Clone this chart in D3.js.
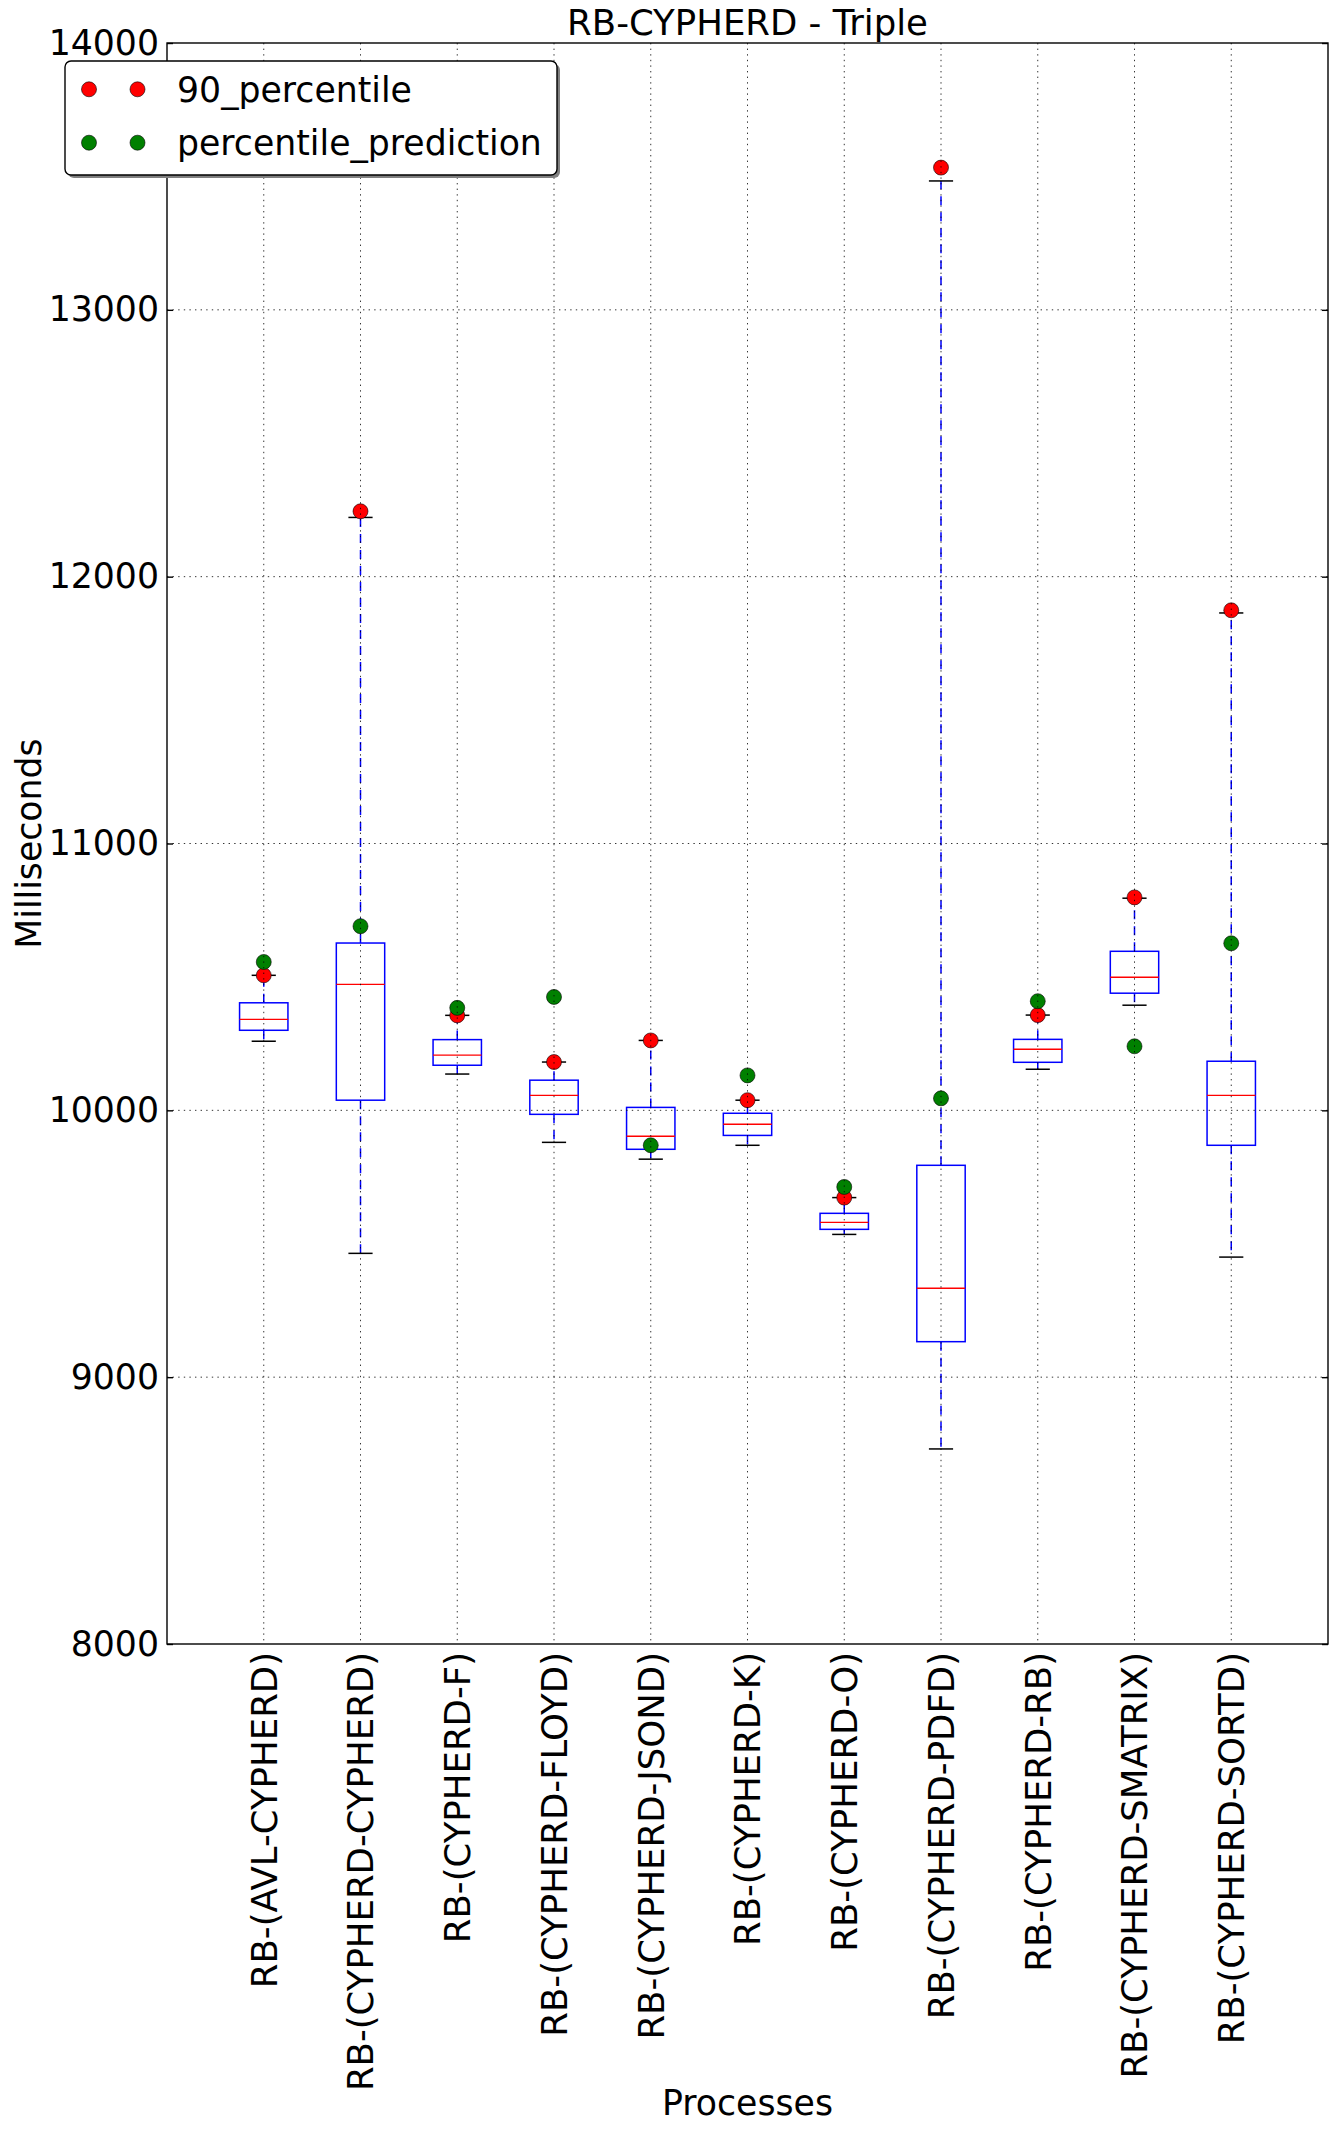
<!DOCTYPE html>
<html>
<head>
<meta charset="utf-8">
<script src="https://cdn.jsdelivr.net/npm/d3@7"></script>
<style>
  html, body { margin: 0; padding: 0; background: #fff; }
  svg { display: block; }
  text { font-family: "DejaVu Sans", sans-serif; fill: #000; }
</style>
</head>
<body>
<svg id="chart" width="1339" height="2131"></svg>
<script>
const categories = [
  "RB-(AVL-CYPHERD)", "RB-(CYPHERD-CYPHERD)", "RB-(CYPHERD-F)", "RB-(CYPHERD-FLOYD)",
  "RB-(CYPHERD-JSOND)", "RB-(CYPHERD-K)", "RB-(CYPHERD-O)", "RB-(CYPHERD-PDFD)",
  "RB-(CYPHERD-RB)", "RB-(CYPHERD-SMATRIX)", "RB-(CYPHERD-SORTD)"
];
const whiskerLow  = [10259, 9464, 10136, 9880, 9817, 9869, 9535, 8731, 10154, 10394, 9450];
const q1          = [10300, 10038, 10169, 9985, 9854, 9906, 9554, 9133, 10180, 10439, 9869];
const median      = [10341, 10472, 10207, 10056, 9903, 9948, 9580, 9333, 10229, 10499, 10056];
const q3          = [10403, 10627, 10265, 10113, 10011, 9989, 9614, 9794, 10266, 10596, 10184];
const whiskerHigh = [10506, 12222, 10356, 10181, 10262, 10038, 9673, 13483, 10357, 10795, 11864];
const p90         = [10506, 12245, 10356, 10181, 10262, 10038, 9673, 13533, 10357, 10798, 11874];
const prediction  = [10556, 10690, 10384, 10425, 9869, 10131, 9713, 10045, 10409, 10240, 10626];
const yTicks = [8000, 9000, 10000, 11000, 12000, 13000, 14000];
const legendLabels = ["90_percentile", "percentile_prediction"];
const legendColors = ["#ff0000", "#008000"];

const svg = d3.select("#chart");
const L = 167, R = 1328, T = 43, B = 1644;
const x = d3.scaleLinear().domain([0, categories.length + 1]).range([L, R]);
const y = d3.scaleLinear().domain([8000, 14000]).range([B, T]);
const unit = x(1) - x(0);
const boxW = unit * 0.5, capW = unit * 0.25;
const FS = 34.7;
const MR = 7.5;

svg.append("rect").attr("width", 1339).attr("height", 2131).attr("fill", "#fff");

const data = categories.map((c, i) => ({
  c, pos: i + 1, lo: whiskerLow[i], q1: q1[i], med: median[i], q3: q3[i], hi: whiskerHigh[i],
  p90: p90[i], pred: prediction[i]
}));

const g = svg.append("g");
// whiskers
g.selectAll(".wlo").data(data).join("line")
  .attr("x1", d => x(d.pos)).attr("x2", d => x(d.pos))
  .attr("y1", d => y(d.q1)).attr("y2", d => y(d.lo))
  .attr("stroke", "#0000ff").attr("stroke-width", 1.5).attr("stroke-dasharray", "9,7");
g.selectAll(".whi").data(data).join("line")
  .attr("x1", d => x(d.pos)).attr("x2", d => x(d.pos))
  .attr("y1", d => y(d.q3)).attr("y2", d => y(d.hi))
  .attr("stroke", "#0000ff").attr("stroke-width", 1.5).attr("stroke-dasharray", "9,7");
// caps
["lo", "hi"].forEach(k => {
  g.selectAll(".cap" + k).data(data).join("line")
    .attr("x1", d => x(d.pos) - capW / 2).attr("x2", d => x(d.pos) + capW / 2)
    .attr("y1", d => y(d[k])).attr("y2", d => y(d[k]))
    .attr("stroke", "#000").attr("stroke-width", 1.5);
});
// boxes
g.selectAll(".box").data(data).join("rect")
  .attr("x", d => x(d.pos) - boxW / 2).attr("width", boxW)
  .attr("y", d => y(d.q3)).attr("height", d => y(d.q1) - y(d.q3))
  .attr("fill", "none").attr("stroke", "#0000ff").attr("stroke-width", 1.5);
// medians
g.selectAll(".med").data(data).join("line")
  .attr("x1", d => x(d.pos) - boxW / 2).attr("x2", d => x(d.pos) + boxW / 2)
  .attr("y1", d => y(d.med)).attr("y2", d => y(d.med))
  .attr("stroke", "#ff0000").attr("stroke-width", 1.4);
// points
g.selectAll(".p90").data(data).join("circle")
  .attr("cx", d => x(d.pos)).attr("cy", d => y(d.p90)).attr("r", MR)
  .attr("fill", "#ff0000").attr("stroke", "#000").attr("stroke-width", 0.6);
g.selectAll(".pred").data(data).join("circle")
  .attr("cx", d => x(d.pos)).attr("cy", d => y(d.pred)).attr("r", MR)
  .attr("fill", "#008000").attr("stroke", "#000").attr("stroke-width", 0.6);

// grid on top
const grid = svg.append("g").attr("stroke", "#000").attr("stroke-width", 0.8).attr("stroke-dasharray", "1.4,4.2");
grid.selectAll(".gx").data(data).join("line")
  .attr("x1", d => x(d.pos)).attr("x2", d => x(d.pos)).attr("y1", T).attr("y2", B);
grid.selectAll(".gy").data(yTicks.slice(1, -1)).join("line")
  .attr("x1", L).attr("x2", R).attr("y1", d => y(d)).attr("y2", d => y(d));

// frame
svg.append("rect").attr("x", L).attr("y", T).attr("width", R - L).attr("height", B - T)
  .attr("fill", "none").attr("stroke", "#000").attr("stroke-width", 1.4);

// y ticks (inward, both sides)
const yAxisL = d3.axisLeft(y).tickValues(yTicks).tickSizeInner(-6).tickSizeOuter(0).tickPadding(8).tickFormat(d3.format("d"));
const ya = svg.append("g").attr("transform", `translate(${L},0)`).call(yAxisL);
ya.select(".domain").remove();
ya.selectAll("line").attr("stroke", "#000").attr("stroke-width", 1.4);
ya.selectAll("text").attr("font-size", FS).attr("font-family", "DejaVu Sans");
const yAxisR = d3.axisRight(y).tickValues(yTicks).tickSizeInner(-6).tickSizeOuter(0).tickFormat("");
const yr = svg.append("g").attr("transform", `translate(${R},0)`).call(yAxisR);
yr.select(".domain").remove();
yr.selectAll("line").attr("stroke", "#000").attr("stroke-width", 1.4);

// x labels
svg.append("g").selectAll("text").data(data).join("text")
  .attr("transform", d => `translate(${x(d.pos)},${B + 8}) rotate(-90)`)
  .attr("text-anchor", "end").attr("dy", "0.36em").attr("font-size", 35.5)
  .text(d => d.c);

// title and axis labels
svg.append("text").attr("x", (L + R) / 2).attr("y", 35).attr("text-anchor", "middle")
  .attr("font-size", 35.5).text("RB-CYPHERD - Triple");
svg.append("text").attr("x", (L + R) / 2).attr("y", 2115).attr("text-anchor", "middle")
  .attr("font-size", FS).text("Processes");
svg.append("text").attr("transform", `translate(41,${(T + B) / 2}) rotate(-90)`)
  .attr("text-anchor", "middle").attr("font-size", FS).text("Milliseconds");

// legend
const lg = svg.append("g");
lg.append("rect").attr("x", 68).attr("y", 64).attr("width", 492).attr("height", 114).attr("rx", 6)
  .attr("fill", "#808080");
lg.append("rect").attr("x", 65).attr("y", 61).attr("width", 492).attr("height", 114).attr("rx", 6)
  .attr("fill", "#fff").attr("stroke", "#000").attr("stroke-width", 1.4);
const rowsY = [89.3, 142.7], baseY = [101.5, 155];
legendLabels.forEach((lab, i) => {
  [89, 137.5].forEach(mx => {
    lg.append("circle").attr("cx", mx).attr("cy", rowsY[i]).attr("r", MR)
      .attr("fill", legendColors[i]).attr("stroke", "#000").attr("stroke-width", 0.6);
  });
  lg.append("text").attr("x", 177).attr("y", baseY[i]).attr("font-size", FS).text(lab);
});
</script>
</body>
</html>
